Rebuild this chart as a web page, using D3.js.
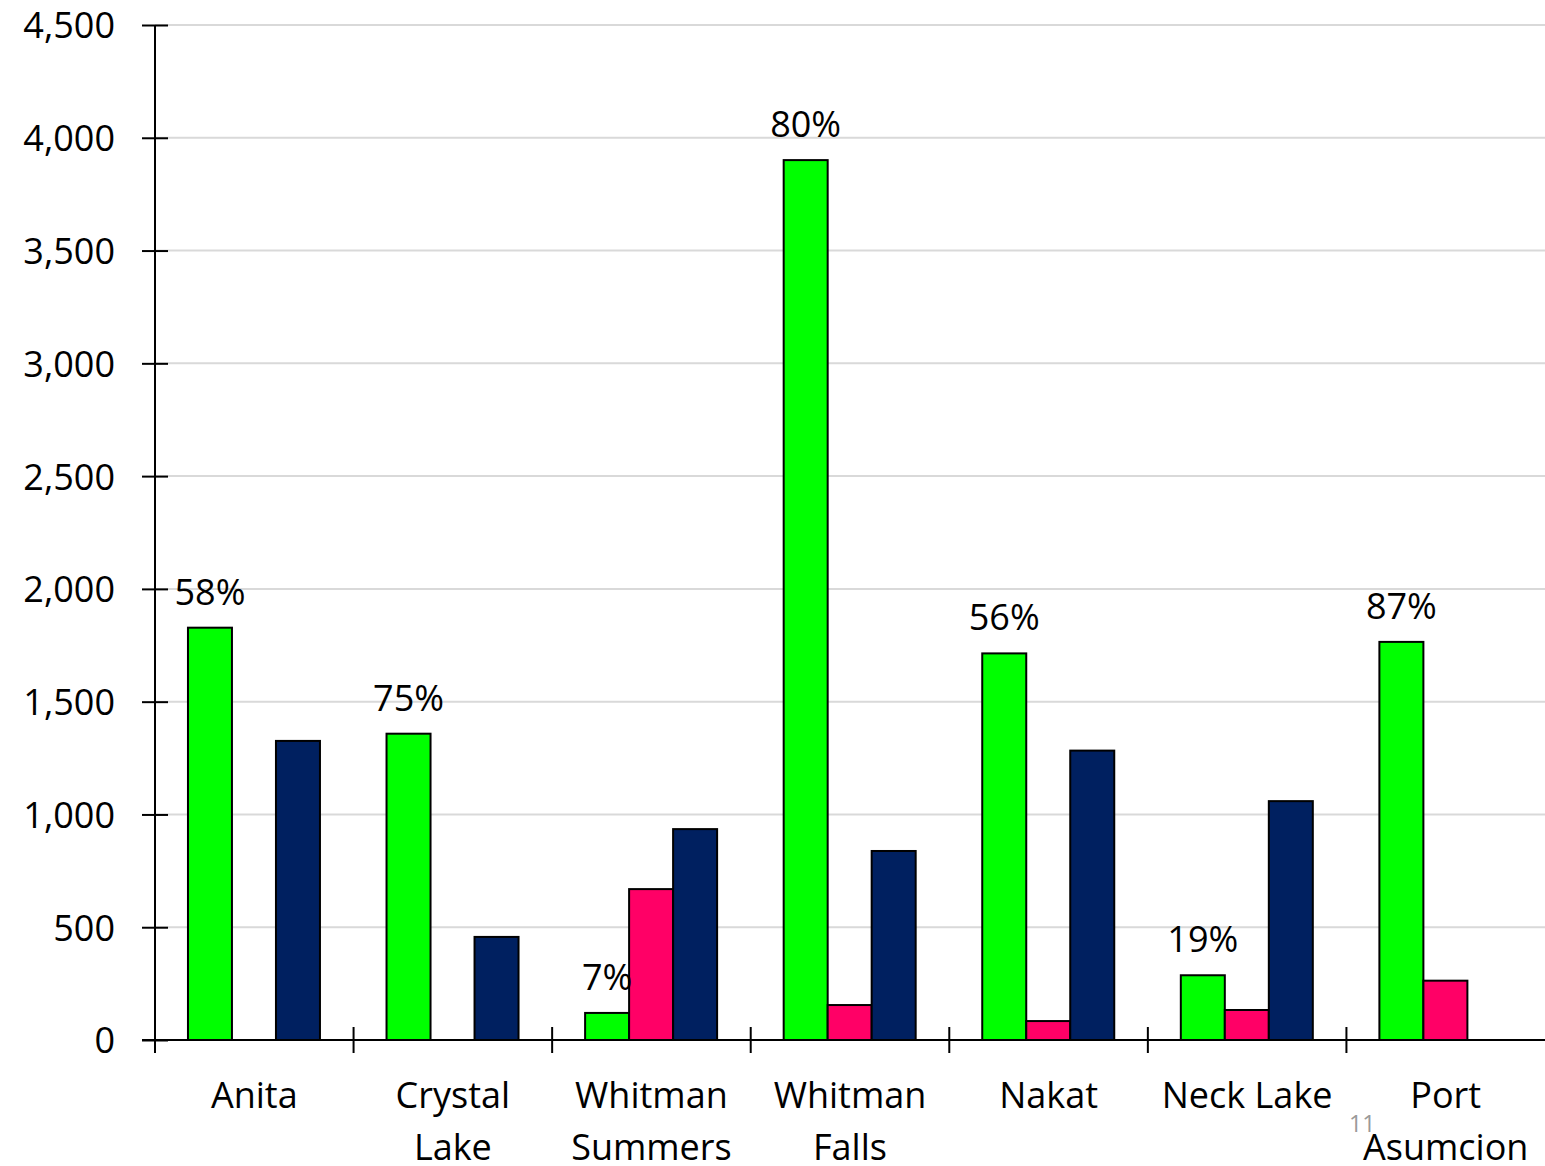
<!DOCTYPE html>
<html>
<head>
<meta charset="utf-8">
<script src="https://cdn.jsdelivr.net/npm/d3@7"></script>
<style>
html,body{margin:0;padding:0;background:#fff;}
svg{display:block;font-family:"Open Sans",sans-serif;}
</style>
</head>
<body>
<svg id="chart" width="1545" height="1166"></svg>
<script>
const categories = [["Anita"],["Crystal","Lake"],["Whitman","Summers"],["Whitman","Falls"],["Nakat"],["Neck Lake"],["Port","Asumcion"]];
const seriesNames = ["green","pink","navy"];
const greenValues = [1828, 1358, 120, 3901, 1714, 287, 1765];
const pinkValues  = [0, 0, 669, 155, 84, 133, 263];
const navyValues  = [1326, 457, 935, 838, 1283, 1059, 0];
const percentLabels = ["58%","75%","7%","80%","56%","19%","87%"];
const yTicks = [0,500,1000,1500,2000,2500,3000,3500,4000,4500];
const colors = {green:"#00FF00", pink:"#FF0066", navy:"#002060"};

const svg = d3.select("#chart");
const mLeft = 155, mRight = 1545, mTop = 25, mBottom = 1040;

const y = d3.scaleLinear().domain([0,4500]).range([mBottom, mTop]);
const keys = categories.map((c,i)=>i);
const x0 = d3.scaleBand().domain(keys).range([mLeft, mRight]).paddingInner(0).paddingOuter(0);
const bw = x0.bandwidth();
const x1 = d3.scaleBand().domain(seriesNames).range([bw*0.166, bw*0.166 + 132]).padding(0);

// gridlines
svg.append("g").selectAll("line").data(yTicks.filter(t=>t>0)).join("line")
  .attr("x1", mLeft).attr("x2", mRight)
  .attr("y1", d=>y(d)).attr("y2", d=>y(d))
  .attr("stroke", "#d9d9d9").attr("stroke-width", 2);

// y axis
const yAxis = d3.axisLeft(y).tickValues(yTicks).tickSize(0).tickFormat(d3.format(","));
const gy = svg.append("g").attr("transform", `translate(${mLeft},0)`).call(yAxis);
gy.select(".domain").remove();
gy.selectAll("text").attr("x", -40).attr("font-size", 36).attr("fill", "#000")
  .attr("font-family", "'Open Sans',sans-serif").attr("dy", "0.36em");
gy.selectAll(".tick").append("line").attr("x1", -13).attr("x2", 13)
  .attr("stroke", "#000").attr("stroke-width", 2);
svg.append("line").attr("x1", mLeft).attr("x2", mLeft).attr("y1", y(4500)).attr("y2", mBottom + 13)
  .attr("stroke", "#000").attr("stroke-width", 2);

// bars
const data = keys.map(i => ({i, vals: [
  {s:"green", v:greenValues[i]}, {s:"pink", v:pinkValues[i]}, {s:"navy", v:navyValues[i]}]}));
const groups = svg.append("g").selectAll("g").data(data).join("g")
  .attr("transform", d=>`translate(${x0(d.i)},0)`);
groups.selectAll("rect").data(d=>d.vals.filter(v=>v.v>0)).join("rect")
  .attr("x", d=>x1(d.s)).attr("width", x1.bandwidth())
  .attr("y", d=>y(d.v)).attr("height", d=>y(0)-y(d.v))
  .attr("fill", d=>colors[d.s]).attr("stroke", "#000").attr("stroke-width", 2);

// percent labels
groups.append("text")
  .attr("x", x1("green") + x1.bandwidth()/2)
  .attr("y", d=>y(greenValues[d.i]) - 23)
  .attr("text-anchor", "middle").attr("font-size", 36).attr("fill", "#000")
  .text(d=>percentLabels[d.i]);

// x axis
svg.append("line").attr("x1", mLeft - 13).attr("x2", mRight).attr("y1", mBottom).attr("y2", mBottom)
  .attr("stroke", "#000").attr("stroke-width", 2);
svg.append("g").selectAll("line").data(keys.slice(1)).join("line")
  .attr("x1", d=>x0(d)).attr("x2", d=>x0(d)).attr("y1", mBottom - 13).attr("y2", mBottom + 13)
  .attr("stroke", "#000").attr("stroke-width", 2);

// category labels
const cl = svg.append("g").selectAll("text").data(keys).join("text")
  .attr("text-anchor", "middle").attr("font-size", 36).attr("fill", "#000");
cl.selectAll("tspan").data(d=>categories[d].map(t=>({t, x:x0(d)+bw/2}))).join("tspan")
  .attr("x", d=>d.x).attr("y", (d,j)=>1108 + j*52).text(d=>d.t);

// slide number
svg.append("text").attr("x", 1349).attr("y", 1132).attr("font-size", 23).attr("fill", "#999").text("11");
</script>
</body>
</html>
